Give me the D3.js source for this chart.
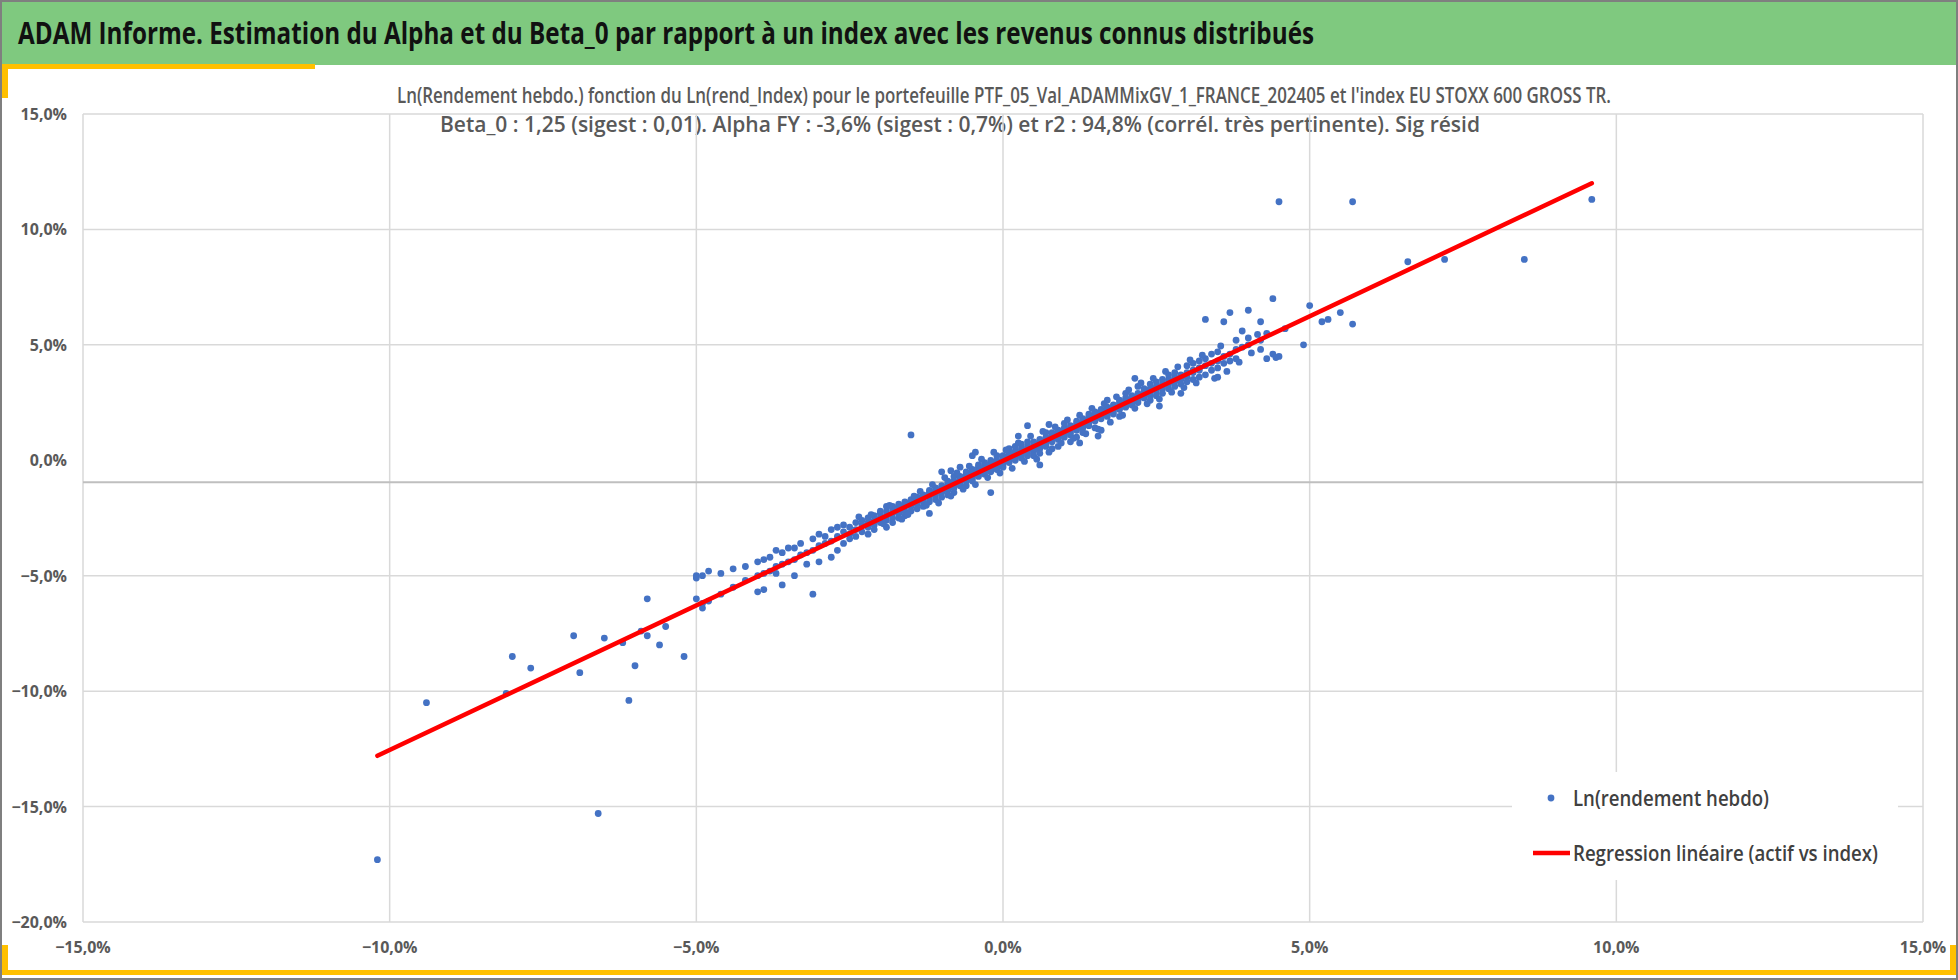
<!DOCTYPE html>
<html>
<head>
<meta charset="utf-8">
<script src="https://cdn.jsdelivr.net/npm/d3@7"></script>
<style>
  body { margin: 0; background: #fff; }
  text { font-family: "Liberation Sans Narrow", "Open Sans", sans-serif; }
</style>
</head>
<body>
<svg id="chart" width="1958" height="980"></svg>
<script>
// Chart texts
const mainTitle = "ADAM Informe. Estimation du Alpha et du Beta_0 par rapport à un index avec les revenus connus distribués";
const subTitle1 = "Ln(Rendement hebdo.) fonction du Ln(rend_Index) pour le portefeuille PTF_05_Val_ADAMMixGV_1_FRANCE_202405 et l'index EU STOXX 600 GROSS TR.";
const subTitle2 = "Beta_0 : 1,25 (sigest : 0,01). Alpha FY : -3,6% (sigest : 0,7%) et r2 : 94,8% (corrél. très pertinente). Sig résid";
const legendLabels = ["Ln(rendement hebdo)", "Regression linéaire (actif vs index)"];

// Axis ticks (in %)
const xTicks = [-15, -10, -5, 0, 5, 10, 15];
const yTicks = [15, 10, 5, 0, -5, -10, -15, -20];

// Regression line endpoints: [index %, asset %]
const regression = [[-10.2, -12.8], [9.6, 12.0]];

// Weekly log returns: [index %, asset %]
const obs = [
  [-10.2,-17.3],[-9.4,-10.5],[-8.1,-10.1],[-8.0,-8.5],[-7.7,-9.0],[-7.0,-7.6],[-6.9,-9.2],[-6.6,-15.3],
  [-6.5,-7.7],[-6.2,-7.9],[-6.1,-10.4],[-6.0,-8.9],[-5.9,-7.4],[-5.8,-6.0],[-5.8,-7.6],[-5.6,-8.0],
  [-5.5,-7.2],[-5.2,-8.5],[-5.0,-5.0],[-4.6,-5.8],
  [-5.0,-5.1],[-5.0,-6.0],[-4.9,-5.0],[-4.9,-6.2],[-4.9,-6.4],[-4.8,-4.8],[-4.8,-6.1],[-4.6,-4.9],
  [-4.4,-5.5],[-4.4,-4.7],[-4.2,-5.2],[-4.2,-4.6],[-4.0,-5.0],[-4.0,-4.4],[-4.0,-5.7],[-3.9,-4.9],
  [-3.9,-5.6],[-3.9,-4.3],[-3.8,-4.8],[-3.8,-4.2],[-3.7,-4.6],[-3.7,-3.9],[-3.7,-4.9],[-3.6,-4.5],
  [-3.6,-4.0],[-3.6,-5.4],[-3.5,-4.4],[-3.5,-3.8],[-3.4,-4.3],[-3.4,-3.8],[-3.4,-5.0],[-3.3,-4.1],
  [-3.3,-3.6],[-3.2,-4.0],[-3.2,-4.5],[-3.1,-3.9],[-3.1,-5.8],[-3.1,-3.4],[-3.0,-3.7],[-3.0,-4.4],
  [-3.0,-3.2],[-2.9,-3.6],[-2.9,-3.3],[-2.8,-3.5],[-2.8,-3.0],[-2.8,-4.2],[-2.7,-3.3],[-2.7,-3.9],
  [-2.7,-2.9],[-2.6,-3.1],[-2.6,-3.6],[-2.6,-2.8],
  [-2.5,-3.2],[-2.5,-2.9],[-2.5,-3.4],[-2.4,-3.0],[-2.4,-2.7],[-2.4,-3.3],[-2.3,-2.8],[-2.3,-3.1],
  [-2.3,-2.6],[-2.2,-2.7],[-2.2,-2.9],[-2.2,-2.5],[-2.2,-3.2],[-2.1,-2.6],[-2.1,-2.4],[-2.1,-2.8],
  [-2.1,-3.0],[-2.0,-2.5],[-2.0,-2.3],[-2.0,-2.7],[-2.0,-2.2],[-1.9,-2.4],[-1.9,-2.2],[-1.9,-2.6],
  [-1.9,-2.0],[-1.9,-2.9],[-1.8,-2.3],[-1.8,-2.1],[-1.8,-2.5],[-1.8,-2.0],[-1.8,-2.7],[-1.7,-2.2],
  [-1.7,-2.0],[-1.7,-2.3],[-1.7,-1.9],[-1.7,-2.5],[-1.6,-2.0],[-1.6,-1.9],[-1.6,-2.2],[-1.6,-1.8],
  [-1.6,-2.4],[-1.5,-1.9],[-1.5,-1.8],[-1.5,-2.0],[-1.5,-1.7],[-1.5,-2.2],[-1.5,1.1],[-1.4,-1.8],
  [-1.4,-1.7],[-1.4,-1.9],[-1.4,-1.6],[-1.4,-2.1],[-1.3,-1.7],[-1.3,-1.6],[-1.3,-1.5],[-1.3,-1.8],
  [-1.3,-2.0],[-1.2,-1.5],[-1.2,-1.4],[-1.2,-1.6],[-1.2,-1.3],[-1.2,-1.8],[-1.2,-2.3],[-1.1,-1.4],
  [-1.1,-1.3],[-1.1,-1.5],[-1.1,-1.2],[-1.1,-1.7],[-1.0,-1.3],[-1.0,-1.2],[-1.0,-1.1],[-1.0,-1.4],
  [-1.0,-1.6],[-1.0,-0.5],[-0.9,-1.2],[-0.9,-1.1],[-0.9,-1.0],[-0.9,-1.3],[-0.9,-0.9],[-0.9,-1.5],
  [-0.8,-1.0],[-0.8,-1.1],[-0.8,-0.9],[-0.8,-1.2],[-0.8,-0.7],[-0.8,-1.4],[-0.7,-0.9],[-0.7,-0.8],
  [-0.7,-1.0],[-0.7,-0.7],[-0.7,-1.1],[-0.7,-0.3],[-0.6,-0.8],[-0.6,-0.7],[-0.6,-0.6],[-0.6,-0.9],
  [-0.6,-0.5],[-0.6,-1.1],[-0.5,-0.6],[-0.5,-0.7],[-0.5,-0.5],[-0.5,-0.8],[-0.5,-0.4],[-0.5,-0.9],
  [-0.5,0.2],[-0.4,-0.5],[-0.4,-0.6],[-0.4,-0.4],[-0.4,-0.3],[-0.4,-0.7],[-0.4,-0.2],[-0.3,-0.4],
  [-0.3,-0.3],[-0.3,-0.5],[-0.3,-0.2],[-0.3,-0.6],[-0.3,-0.1],[-0.2,-0.3],[-0.2,-0.2],[-0.2,-0.4],
  [-0.2,-0.1],[-0.2,-0.5],[-0.2,0.0],[-0.2,-1.4],[-0.1,-0.2],[-0.1,-0.1],[-0.1,-0.3],[-0.1,0.0],
  [-0.1,-0.4],[-0.1,0.2],[0.0,-0.1],[0.0,0.0],[0.0,0.1],[0.0,-0.2],[0.0,0.2],[0.0,-0.3],
  [0.1,0.0],[0.1,0.1],[0.1,0.2],[0.1,-0.1],[0.1,0.3],[0.1,0.5],[0.2,0.2],[0.2,0.1],
  [0.2,0.3],[0.2,0.4],[0.2,0.0],[0.2,0.6],[0.3,0.3],[0.3,0.4],[0.3,0.2],[0.3,0.5],
  [0.3,0.1],[0.3,0.7],[0.4,0.4],[0.4,0.5],[0.4,0.6],[0.4,0.3],[0.4,0.2],[0.4,0.8],
  [0.4,1.5],[0.5,0.6],[0.5,0.5],[0.5,0.7],[0.5,0.4],[0.5,0.8],[0.5,0.2],[0.6,0.7],
  [0.6,0.6],[0.6,0.8],[0.6,0.5],[0.6,0.9],[0.6,0.3],[0.6,-0.2],[0.7,0.8],[0.7,0.9],
  [0.7,0.7],[0.7,1.0],[0.7,0.6],[0.7,1.2],[0.8,1.0],[0.8,0.9],[0.8,1.1],[0.8,0.8],
  [0.8,1.2],[0.8,0.5],[0.9,1.1],[0.9,1.0],[0.9,1.2],[0.9,0.9],[0.9,1.3],[0.9,0.6],
  [1.0,1.2],[1.0,1.1],[1.0,1.3],[1.0,1.0],[1.0,1.4],[1.0,1.6],[1.1,1.3],[1.1,1.4],
  [1.1,1.2],[1.1,1.5],[1.1,1.1],[1.1,0.8],[1.2,1.5],[1.2,1.4],[1.2,1.6],[1.2,1.3],
  [1.2,1.7],[1.2,1.0],[1.3,1.6],[1.3,1.5],[1.3,1.7],[1.3,1.8],[1.3,1.4],[1.3,1.2],
  [1.4,1.7],[1.4,1.8],[1.4,1.6],[1.4,1.9],[1.4,1.5],[1.4,2.0],[1.5,1.9],[1.5,1.8],
  [1.5,2.0],[1.5,1.7],[1.5,2.1],[1.5,1.4],[1.6,2.0],[1.6,1.9],[1.6,2.1],[1.6,2.2],
  [1.6,1.8],[1.6,1.3],[1.7,2.1],[1.7,2.2],[1.7,2.0],[1.7,2.3],[1.7,1.9],[1.7,2.6],
  [1.8,2.2],[1.8,2.3],[1.8,2.1],[1.8,2.4],[1.8,2.0],[1.9,2.4],[1.9,2.3],[1.9,2.5],
  [1.9,2.2],[1.9,2.6],[1.9,1.9],[2.0,2.5],[2.0,2.4],[2.0,2.6],[2.0,2.3],[2.0,2.7],
  [2.0,2.9],[2.1,2.6],[2.1,2.5],[2.1,2.7],[2.1,2.8],[2.1,2.4],[2.2,2.7],[2.2,2.8],
  [2.2,2.6],[2.2,2.9],[2.2,2.5],[2.2,3.2],[2.3,2.9],[2.3,2.8],[2.3,3.0],[2.3,2.7],
  [2.3,3.1],[2.4,3.0],[2.4,2.9],[2.4,3.1],[2.4,2.8],[2.4,3.3],[2.4,2.6],[2.5,3.1],
  [2.5,3.0],[2.5,3.2],[2.5,3.4],[2.5,2.8],[2.6,3.2],[2.6,3.3],[2.6,3.1],[2.6,3.5],
  [2.6,2.9],[2.7,3.4],[2.7,3.3],[2.7,3.5],[2.7,3.1],[2.7,3.7],[2.8,3.5],[2.8,3.4],
  [2.8,3.6],[2.8,3.2],[2.8,3.8],[2.9,3.6],[2.9,3.5],[2.9,3.7],[2.9,3.3],[2.9,2.9],
  [3.0,3.7],[3.0,3.6],[3.0,3.8],[3.0,3.4],[3.0,4.1],[3.1,3.9],[3.1,3.8],[3.1,3.5],
  [3.1,4.2],[3.2,4.0],[3.2,3.9],[3.2,3.6],[3.2,4.3],[3.3,4.1],[3.3,3.7],[3.3,4.4],
  [3.3,6.1],[3.4,4.2],[3.4,3.9],[3.4,4.6],[3.5,4.3],[3.5,4.0],[3.5,4.7],[3.5,3.6],
  [3.6,4.5],[3.6,4.2],[3.6,6.0],[3.7,4.6],[3.7,4.3],[3.7,6.4],[3.8,4.8],[3.8,4.4],
  [3.8,5.2],[3.9,4.9],[3.9,5.6],[4.0,5.0],[4.0,6.5],[4.0,5.3],[4.2,5.2],[4.2,6.0],
  [4.2,4.8],[4.3,4.4],[4.3,5.5],[4.4,7.0],[4.4,4.6],[4.5,4.5],[4.5,11.2],[4.6,5.7],
  [4.9,5.0],[5.0,6.7],[5.2,6.0],[5.3,6.1],[5.5,6.4],[5.7,5.9],[5.7,11.2],[6.6,8.6],
  [7.2,8.7],[8.5,8.7],[9.6,11.3],
  // denser core, read between the round steps
  [-2.35,-2.45],[-2.15,-2.35],[-1.95,-2.75],[-1.85,-1.95],[-1.65,-2.55],[-1.55,-2.35],[-1.45,-1.55],
  [-1.35,-1.35],[-1.25,-1.95],[-1.15,-1.05],[-1.05,-1.85],[-0.95,-0.75],[-0.85,-1.55],[-0.75,-0.55],
  [-0.65,-1.25],[-0.55,-0.25],[-0.45,-1.05],[-0.35,0.05],[-0.25,-0.75],[-0.15,0.35],[-0.05,-0.55],
  [0.05,0.45],[0.15,-0.35],[0.25,0.75],[0.35,-0.05],[0.45,1.05],[0.55,0.05],[0.65,1.25],[0.75,0.35],
  [0.85,1.45],[0.95,0.75],[1.05,1.75],[1.15,0.95],[1.25,1.95],[1.35,1.15],[1.45,2.25],[1.55,1.35],
  [1.65,2.45],[1.75,1.65],[1.85,2.75],[1.95,1.95],[2.05,3.05],[2.15,2.25],[2.25,3.35],[2.35,2.45],
  [2.45,3.55],[2.55,2.65],[2.65,3.85],[2.75,2.95],[2.85,4.05],[2.95,3.15],[3.05,4.35],[3.15,3.35],
  [3.25,4.55],[3.45,3.55],[3.55,4.95],[3.65,3.85],[3.85,4.25],[4.05,4.65],[4.15,5.45],[4.45,4.45],
  [-0.85,-0.45],[-0.45,0.35],[0.25,1.05],[0.75,1.55],[1.25,0.75],[1.55,1.05],[2.15,3.55],[2.55,2.35]
];

const svg = d3.select("#chart");
const W = 1958, H = 980;
const fmt = v => d3.format(".1f")(v).replace(".", ",") + "%";

// Frame, header band and yellow accents
svg.append("rect").attr("x", 1).attr("y", 1).attr("width", W - 2).attr("height", H - 2)
  .attr("fill", "#fff").attr("stroke", "#7f7f7f").attr("stroke-width", 2);
svg.append("rect").attr("x", 2).attr("y", 2).attr("width", W - 4).attr("height", 63).attr("fill", "#7fc97f");
svg.append("rect").attr("x", 2).attr("y", 64).attr("width", 313).attr("height", 5).attr("fill", "#ffc000");
svg.append("rect").attr("x", 2).attr("y", 64).attr("width", 6).attr("height", 34).attr("fill", "#ffc000");
svg.append("rect").attr("x", 2).attr("y", 970).attr("width", W - 4).attr("height", 5).attr("fill", "#ffc000");
svg.append("rect").attr("x", 2).attr("y", 945).attr("width", 6).attr("height", 30).attr("fill", "#ffc000");
svg.append("rect").attr("x", 1950).attr("y", 945).attr("width", 6).attr("height", 30).attr("fill", "#ffc000");

svg.append("text").attr("x", 18).attr("y", 44).attr("font-size", 30).attr("font-weight", "bold").attr("fill", "#111")
  .attr("textLength", 1296).attr("lengthAdjust", "spacingAndGlyphs").text(mainTitle);

svg.append("text").attr("x", 1004).attr("y", 103).attr("text-anchor", "middle").attr("font-size", 21)
  .attr("font-weight", 600).attr("fill", "#595959").attr("textLength", 1214).attr("lengthAdjust", "spacingAndGlyphs").text(subTitle1);
svg.append("text").attr("x", 960).attr("y", 132).attr("text-anchor", "middle").attr("font-size", 21)
  .attr("font-weight", 600).attr("fill", "#595959").attr("textLength", 1040).attr("lengthAdjust", "spacingAndGlyphs").text(subTitle2);

// Scales
const x = d3.scaleLinear().domain([-15, 15]).range([83, 1923]);
const y = d3.scaleLinear().domain([-20, 15]).range([922, 114]);

const grid = svg.append("g").attr("stroke", "#d9d9d9").attr("stroke-width", 1.5);
grid.selectAll(".v").data(xTicks).enter().append("line")
  .attr("x1", d => x(d)).attr("x2", d => x(d)).attr("y1", y(15)).attr("y2", y(-20));
grid.selectAll(".h").data(yTicks.filter(d => d !== 0)).enter().append("line")
  .attr("x1", x(-15)).attr("x2", x(15)).attr("y1", d => y(d)).attr("y2", d => y(d));
// horizontal axis line (crosses slightly below zero in the original)
svg.append("line").attr("x1", x(-15)).attr("x2", x(15)).attr("y1", y(-0.95)).attr("y2", y(-0.95))
  .attr("stroke", "#bfbfbf").attr("stroke-width", 2);

// Tick labels
svg.append("g").selectAll("text").data(yTicks).enter().append("text")
  .attr("x", 67).attr("y", d => y(d) + 6).attr("text-anchor", "end").attr("font-size", 16)
  .attr("font-weight", "bold").attr("fill", "#595959").text(fmt);
svg.append("g").selectAll("text").data(xTicks).enter().append("text")
  .attr("x", d => x(d)).attr("y", 953).attr("text-anchor", "middle").attr("font-size", 16)
  .attr("font-weight", "bold").attr("fill", "#595959").text(fmt);

// Points
svg.append("g").selectAll("circle").data(obs).enter().append("circle")
  .attr("cx", d => x(d[0])).attr("cy", d => y(d[1])).attr("r", 3.4).attr("fill", "#4472c4");

// Regression line
svg.append("path").datum(regression)
  .attr("d", d3.line().x(d => x(d[0])).y(d => y(d[1])))
  .attr("stroke", "#ff0000").attr("stroke-width", 4.5).attr("fill", "none").attr("stroke-linecap", "round");

// Legend
const lg = svg.append("g");
lg.append("rect").attr("x", 1512).attr("y", 772).attr("width", 386).attr("height", 108).attr("fill", "#fff");
lg.append("circle").attr("cx", 1551).attr("cy", 798).attr("r", 3.4).attr("fill", "#4472c4");
lg.append("line").attr("x1", 1533).attr("x2", 1570).attr("y1", 853).attr("y2", 853)
  .attr("stroke", "#ff0000").attr("stroke-width", 4.5);
lg.selectAll("text").data(legendLabels).enter().append("text")
  .attr("x", 1573).attr("y", (d, i) => 806 + i * 55).attr("font-size", 22).attr("font-weight", 600)
  .attr("fill", "#404040").attr("textLength", (d, i) => i === 0 ? 196 : 305)
  .attr("lengthAdjust", "spacingAndGlyphs").text(d => d);
</script>
</body>
</html>
